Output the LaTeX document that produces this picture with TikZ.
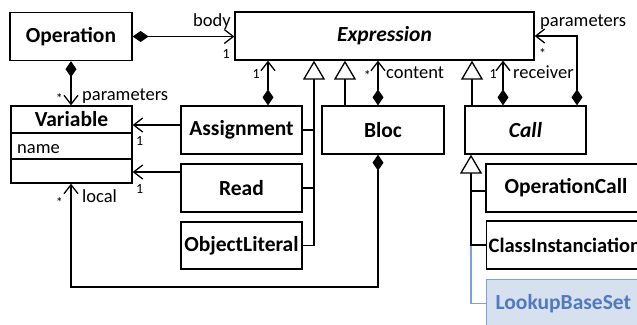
\documentclass[tikz,border=0pt]{standalone}
\usepackage{fontspec}
\setmainfont{Carlito}
\usetikzlibrary{arrows.meta}
\definecolor{lbfill}{HTML}{D7E0EE}
\definecolor{lbline}{HTML}{7AA0DE}
\definecolor{lbtext}{HTML}{5079BE}
\newcommand{\clsfont}{\fontsize{21.5}{24}\selectfont\bfseries}
\newcommand{\lblfont}{\fontsize{18.5}{20}\selectfont}
\newcommand{\mulfont}{\fontsize{14}{16}\selectfont}
\begin{document}
\begin{tikzpicture}[x=1pt,y=-1pt,
  lw/.style={line width=1.3pt},
  cls/.style={draw, lw, inner sep=0pt, font=\clsfont, minimum height=48pt},
  comp/.style={lw, {Diamond[length=16pt,width=11pt]}-{Straight Barb[length=9pt,width=14pt]}},
  assoc/.style={lw, -{Straight Barb[length=9pt,width=14pt]}},
  gen/.style={lw, -{Triangle[fill=white,length=19pt,width=22pt]}},
  lbl/.style={font=\lblfont, inner sep=0pt},
  mul/.style={font=\mulfont, inner sep=0pt}]
\useasboundingbox (0,0) rectangle (637,324);
\clip (0,0) rectangle (637,324);
% columns and rows
\coordinate (cA) at (268,0);
\coordinate (cG1) at (314,0);
\coordinate (cG2) at (345,0);
\coordinate (cB) at (378,0);
\coordinate (cG3) at (472,0);
\coordinate (cR) at (503,0);
\coordinate (cP) at (577,0);
\coordinate (cO) at (71,0);
\coordinate (cC) at (471,0);
\coordinate (rP) at (0,36);
\coordinate (rA) at (0,125);
\coordinate (rR) at (0,172);
\coordinate (rL) at (0,287);
\coordinate (rOC) at (0,191);
\coordinate (d1) at (0,133);
\coordinate (d2) at (0,159);
% classes
\node[cls, minimum width=122pt] (Operation) at (71,36.5) {Operation};
\node[cls, minimum width=299pt, font=\clsfont\itshape] (Expression) at (384.5,36) {Expression};
\node[draw, lw, minimum width=121pt, minimum height=77pt, inner sep=0pt] (Variable) at (71.5,144.5) {};
\node[font=\clsfont, inner sep=0pt] (VarTitle) at (71.5,119.5) {Variable};
\draw[lw] (Variable.west |- d1) -- (Variable.east |- d1);
\draw[lw] (Variable.west |- d2) -- (Variable.east |- d2);
\node[lbl, anchor=base west] (VarName) at (17,153) {name};
\node[cls, minimum width=121pt] (Assignment) at (241.5,130) {Assignment};
\node[cls, minimum width=121pt] (Read) at (241.5,188) {Read};
\node[cls, minimum width=121pt, minimum height=47pt] (ObjectLiteral) at (241.5,245.5) {ObjectLiteral};
\node[cls, minimum width=122pt] (Bloc) at (383,130) {Bloc};
\node[cls, minimum width=121pt, font=\clsfont\itshape] (Call) at (525.5,130) {Call};
\node[cls, minimum width=160pt] (OperationCall) at (566,188) {OperationCall};
\node[cls, anchor=west, inner xsep=2pt, font=\fontsize{20.5}{23}\selectfont\bfseries] (ClassInstanciation) at (486,245) {ClassInstanciation};
\node[cls, anchor=north west, inner xsep=9pt, draw=lbline, fill=lbfill, text=lbtext] (LookupBaseSet) at (486,279) {LookupBaseSet};
% connectors
\draw[comp] (Operation.east) -- (Operation.east -| Expression.west);
\draw[comp] (Operation.south -| cO) -- (Variable.north -| cO);
\draw[comp] (Assignment.north -| cA) -- (Expression.south -| cA);
\draw[gen] (ObjectLiteral.east) -| (Expression.south -| cG1);
\draw[lw] (Assignment.east) -- (Assignment.east -| cG1);
\draw[lw] (Read.east) -- (Read.east -| cG1);
\draw[gen] (Bloc.north -| cG2) -- (Expression.south -| cG2);
\draw[comp] (Bloc.north -| cB) -- (Expression.south -| cB);
\draw[gen] (Call.north -| cG3) -- (Expression.south -| cG3);
\draw[comp] (Call.north -| cR) -- (Expression.south -| cR);
\draw[comp] (Call.north -| cP) |- (Expression.east |- rP);
\draw[assoc] (Assignment.west |- rA) -- (Variable.east |- rA);
\draw[assoc] (Read.west |- rR) -- (Variable.east |- rR);
\draw[comp] (Bloc.south -| cB) |- (rL -| cO) -- (Variable.south -| cO);
\draw[lw, lbline] (LookupBaseSet.west) -| (ClassInstanciation.west -| cC);
\draw[gen] (ClassInstanciation.west) -| (Call.south -| cC);
\draw[lw] (OperationCall.west |- rOC) -- (cC |- rOC);
% labels
\node[lbl, anchor=base east] (lBody) at (231,27) {body};
\node[mul, anchor=base east] (mBody) at (230,58) {1};
\node[mul, anchor=base east] (mOpParam) at (63,103) {*};
\node[lbl, anchor=base west] (lOpParam) at (82,100) {parameters};
\node[mul, anchor=base west] (mAssVar) at (136,145) {1};
\node[mul, anchor=base west] (mReadVar) at (136,193) {1};
\node[mul, anchor=base east] (mLocal) at (63,207) {*};
\node[lbl, anchor=base west] (lLocal) at (82,202) {local};
\node[mul, anchor=base east] (mAssExp) at (260,78) {1};
\node[mul, anchor=base east] (mContent) at (371,80) {*};
\node[lbl, anchor=base west] (lContent) at (386,78) {content};
\node[mul, anchor=base east] (mRecv) at (497,78) {1};
\node[lbl, anchor=base west] (lRecv) at (513,78) {receiver};
\node[lbl, anchor=base west] (lCallParam) at (540,27) {parameters};
\node[mul, anchor=base west] (mCallParam) at (539,58) {*};
\end{tikzpicture}
\end{document}
